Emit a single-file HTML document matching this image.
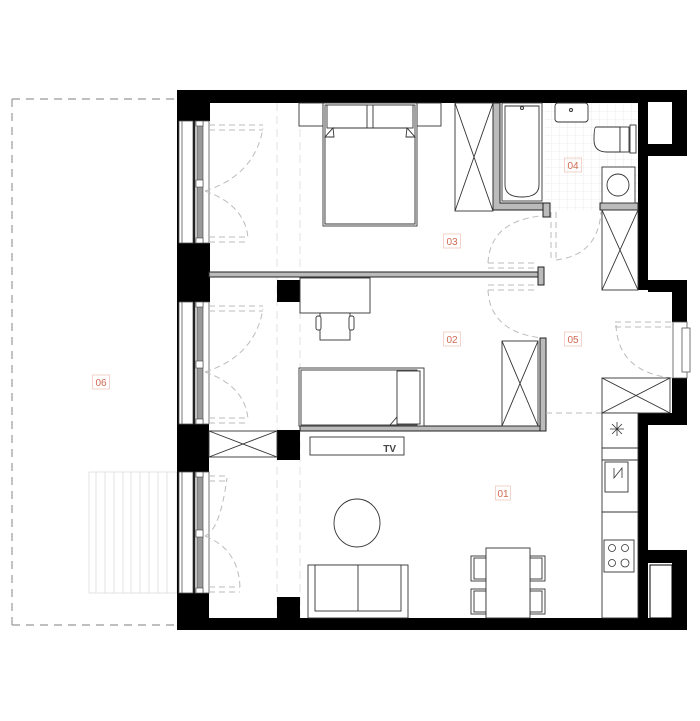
<!DOCTYPE html>
<html><head><meta charset="utf-8"><style>
html,body{margin:0;padding:0;background:#fff;}
svg{display:block;}
text{font-family:"Liberation Sans",sans-serif;}
</style></head><body>
<svg width="700" height="721" viewBox="0 0 700 721" xmlns="http://www.w3.org/2000/svg">
<defs>
<pattern id="tile" width="8" height="8" patternUnits="userSpaceOnUse"><path d="M8 0V8M0 8H8" stroke="#e8e8e8" stroke-width="0.8" fill="none"/></pattern>
</defs>
<path d="M12 99H177M12 99V625M12 625H177" stroke="#999" stroke-width="1.2" stroke-dasharray="8,6" fill="none"/>
<g stroke="#ddd" stroke-width="0.8" fill="none">
<rect x="89" y="472" width="88" height="121"/>
<path d="M96 472V593M105 472V593M114 472V593M123 472V593M131 472V593M140 472V593M149 472V593M158 472V593M167 472V593"/>
</g>
<rect x="92.5" y="375" width="17" height="14" fill="none" stroke="#f1c9bf" stroke-width="0.8"/>
<text x="101" y="386" font-size="10" fill="#d06a50" text-anchor="middle">06</text>

<rect x="545" y="103" width="93" height="107" fill="url(#tile)"/>
<path d="M277 103V618M300 103V618" stroke="#e2e2e2" stroke-width="1" stroke-dasharray="8,5"/>

<g fill="#000">
<rect x="177" y="90" width="463" height="13"/>
<rect x="177" y="90" width="33" height="31"/>
<rect x="177" y="90" width="18" height="540"/>
<rect x="177" y="243" width="33" height="59"/>
<rect x="177" y="424" width="32" height="48"/>
<rect x="177" y="593" width="32" height="37"/>
<rect x="177" y="618" width="510" height="12"/>
<rect x="277" y="280" width="23" height="22"/>
<rect x="277" y="430" width="23" height="30"/>
<rect x="277" y="597" width="23" height="21"/>
<rect x="638" y="90" width="10" height="200"/>
<rect x="638" y="90" width="34" height="12"/>
<rect x="672" y="90" width="15" height="65"/>
<rect x="645" y="144" width="42" height="12"/>
<rect x="648" y="280" width="39" height="12"/>
<rect x="672" y="280" width="15" height="42"/>
<rect x="672" y="378" width="15" height="47"/>
<rect x="638" y="413" width="10" height="210"/>
<rect x="648" y="413" width="39" height="12"/>
<rect x="648" y="550" width="39" height="13"/>
<rect x="672" y="550" width="15" height="80"/>
</g>
<rect x="650" y="565" width="22" height="53" fill="#fff" stroke="#000" stroke-width="1"/>

<g fill="none" stroke="#555" stroke-width="0.8">
<rect x="195" y="121" width="14" height="122" fill="#fff"/>
<rect x="195" y="302" width="14" height="122" fill="#fff"/>
<rect x="195" y="472" width="14" height="121" fill="#fff"/>
<rect x="179" y="121" width="14" height="122" fill="#fff"/>
<rect x="179" y="302" width="14" height="122" fill="#fff"/>
<rect x="179" y="472" width="14" height="121" fill="#fff"/>
<path d="M182 121V243M182 302V424M182 472V593"/>
</g>
<g fill="#999" stroke="#444" stroke-width="0.6">
<rect x="197" y="122" width="6" height="120"/>
<rect x="197" y="303" width="6" height="120"/>
<rect x="197" y="473" width="6" height="119"/>
</g>
<g fill="#fff" stroke="#444" stroke-width="0.6">
<rect x="196" y="121" width="7" height="5"/><rect x="196" y="180" width="7" height="7"/><rect x="196" y="238" width="7" height="5"/>
<rect x="196" y="302" width="7" height="5"/><rect x="196" y="361" width="7" height="7"/><rect x="196" y="419" width="7" height="5"/>
<rect x="196" y="472" width="7" height="5"/><rect x="196" y="530" width="7" height="7"/><rect x="196" y="588" width="7" height="5"/>
</g>
<g fill="none" stroke="#bbb" stroke-width="1" stroke-dasharray="6,4">
<path d="M209 125H263M209 130H263M209 237H248M209 242H248"/>
<path d="M205 191Q255 175 263 128M205 191Q245 205 248 238"/>
<path d="M209 306H263M209 311H263M209 418H248M209 423H248"/>
<path d="M205 372Q255 356 263 309M205 372Q245 386 248 419"/>
<path d="M209 476H227M209 481H227M209 587H240M209 592H240"/>
<path d="M205 536Q220 530 227 478M205 536Q240 550 240 590"/>
</g>

<g fill="#bbb" stroke="#222" stroke-width="1">
<rect x="209" y="272" width="331" height="5"/>
<rect x="538" y="267" width="6" height="18"/>
<rect x="300" y="426" width="246" height="5"/>
<rect x="540" y="338" width="6" height="93"/>
<path d="M493 103H500V203H545V210H493Z"/>
<rect x="543" y="203" width="7" height="14"/>
<rect x="600" y="203" width="38" height="7"/>
</g>

<g fill="none" stroke="#bbb" stroke-width="1" stroke-dasharray="6,4">
<path d="M488 263H538M488 268H538M488 285H538M488 290H538"/>
<path d="M488 263Q490 222 540 216"/>
<path d="M488 290Q490 332 542 338"/>
<path d="M551 212V260M556 212V260"/>
<path d="M556 260Q598 255 601 212"/>
<path d="M615 322H672M615 327H672"/>
<path d="M616 325Q618 372 672 378"/>
<path d="M546 413H602"/>
</g>

<g fill="none" stroke="#333" stroke-width="0.9">
<rect x="455" y="103" width="38" height="108"/><path d="M455 103L474 157L455 211M493 103L474 157L493 211"/>
<rect x="602" y="210" width="36" height="80"/><path d="M602 210L638 290M638 210L602 290"/>
<rect x="502" y="341" width="36" height="85"/><path d="M502 341L538 426M538 341L502 426"/>
<rect x="602" y="378" width="68" height="35"/><path d="M602 378L670 413M670 378L602 413"/>
<rect x="209" y="431" width="68" height="26"/><path d="M209 431L277 457M277 431L209 457"/>
</g>

<g fill="#fff" stroke="#333" stroke-width="0.9">
<rect x="502" y="103" width="40" height="98"/>
<path d="M505 106H539V185Q539 197 522 197Q505 197 505 185Z"/>
<rect x="555" y="103" width="33" height="19" rx="3"/>
<path d="M620 127H596Q594 127 594 140Q594 152 607 152H620Z"/>
<rect x="620" y="127" width="9" height="25"/>
<rect x="630" y="125" width="6" height="28"/>
<rect x="602" y="167" width="33" height="36"/>
<circle cx="618" cy="185" r="11"/>
</g>
<circle cx="522" cy="108" r="1.5" fill="none" stroke="#333"/>
<circle cx="571" cy="110" r="1.5" fill="none" stroke="#333"/>

<g fill="#fff" stroke="#333" stroke-width="0.9">
<rect x="299" y="103" width="24" height="23"/>
<rect x="417" y="103" width="24" height="23"/>
<rect x="323" y="103" width="94" height="123"/>
<rect x="325" y="105" width="90" height="119"/>
<rect x="327" y="105" width="40" height="23"/>
<rect x="373" y="105" width="40" height="23"/>
<path d="M333 128H407L415 137V224H325V137Z"/>
<path d="M333 128L325 137H334Z M407 128L415 137H406Z"/>
</g>

<g fill="#fff" stroke="#333" stroke-width="0.9">
<rect x="300" y="278" width="70" height="35"/>
<rect x="320" y="313" width="30" height="27"/>
<rect x="316" y="316" width="5" height="14" rx="2"/>
<rect x="349" y="316" width="5" height="14" rx="2"/>
<rect x="299" y="368" width="125" height="58"/>
<rect x="301" y="370" width="116" height="55"/>
<rect x="397" y="371" width="23" height="53"/>
<path d="M390 425L397 417V425Z"/>
<rect x="310" y="437" width="94" height="18"/>
</g>
<text x="396" y="452" font-size="10" font-weight="bold" fill="#444" text-anchor="end">TV</text>

<g fill="#fff" stroke="#333" stroke-width="0.9">
<ellipse cx="357" cy="523" rx="23" ry="24"/>
<rect x="308" y="565" width="100" height="53"/>
<rect x="315" y="565" width="86" height="46"/>
<path d="M358 565V611"/>
<rect x="471" y="556" width="15" height="25"/><rect x="474" y="558" width="12" height="21"/>
<rect x="471" y="589" width="15" height="25"/><rect x="474" y="591" width="12" height="21"/>
<rect x="530" y="556" width="15" height="25"/><rect x="530" y="558" width="12" height="21"/>
<rect x="530" y="589" width="15" height="25"/><rect x="530" y="591" width="12" height="21"/>
<rect x="486" y="548" width="44" height="70"/>
<rect x="602" y="413" width="36" height="205"/>
<path d="M602 448H638M602 460H638M602 512H638"/>
<rect x="605" y="462" width="23" height="30"/>
<rect x="604" y="540" width="30" height="32"/>
</g>
<g stroke="#333" stroke-width="0.8" fill="none">
<path d="M610 429H624M617 422V436M612 424L622 434M622 424L612 434"/>
<path d="M614 468V478L622 468V478"/>
<circle cx="612" cy="548" r="3.5"/><circle cx="625" cy="548" r="3.5"/>
<circle cx="612" cy="563" r="3.5"/><circle cx="625" cy="563" r="4"/>
</g>

<g fill="#fff" stroke="#555" stroke-width="0.8">
<rect x="673" y="322" width="14" height="56"/>
<rect x="682" y="328" width="8" height="44"/>
</g>

<g font-size="10" fill="#d06a50" text-anchor="middle">
<rect x="443.5" y="234" width="17" height="14" fill="none" stroke="#f1c9bf" stroke-width="0.8"/><text x="452" y="245">03</text>
<rect x="443.5" y="332" width="17" height="14" fill="none" stroke="#f1c9bf" stroke-width="0.8"/><text x="452" y="343">02</text>
<rect x="564.5" y="158" width="17" height="14" fill="none" stroke="#f1c9bf" stroke-width="0.8"/><text x="573" y="169">04</text>
<rect x="564.5" y="332" width="17" height="14" fill="none" stroke="#f1c9bf" stroke-width="0.8"/><text x="573" y="343">05</text>
<rect x="495.5" y="486" width="15" height="14" fill="none" stroke="#f1c9bf" stroke-width="0.8"/><text x="503" y="497">01</text>
</g>
</svg>
</body></html>
